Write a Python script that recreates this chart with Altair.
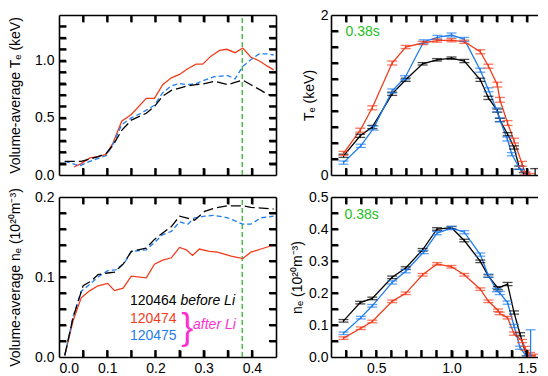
import altair as alt
import pandas as pd

FONT = "Liberation Sans"
RED = "#f23c1c"
BLUE = "#1e7cf0"
BLACK = "#000000"
GREEN_LINE = "#22b022"
GREEN_TXT = "#22c022"
MAGENTA = "#ff30d0"

# ---------------- top-left: volume-average Te vs time ----------------
tl_t_black = [0.012, 0.046, 0.081, 0.098, 0.112, 0.130, 0.150, 0.181, 0.198, 0.215, 0.233,
              0.250, 0.267, 0.284, 0.302, 0.322, 0.350, 0.365, 0.381, 0.398, 0.419, 0.435]
tl_te_black = [0.12, 0.12, 0.16, 0.19, 0.26, 0.39, 0.48, 0.54, 0.60, 0.69, 0.74,
               0.76, 0.78, 0.79, 0.80, 0.82, 0.79, 0.81, 0.83, 0.79, 0.74, 0.70]
tl_t_red = [0.031, 0.046, 0.064, 0.081, 0.098, 0.112, 0.130, 0.150, 0.181, 0.198, 0.215, 0.233,
            0.250, 0.267, 0.284, 0.298, 0.315, 0.333, 0.348, 0.365, 0.381, 0.398, 0.415, 0.433, 0.445]
tl_te_red = [0.07, 0.10, 0.15, 0.16, 0.18, 0.28, 0.47, 0.53, 0.67, 0.67, 0.79, 0.85,
             0.88, 0.93, 0.97, 0.97, 1.04, 1.09, 1.10, 1.07, 1.11, 1.03, 1.00, 0.95, 0.92]
tl_t_blue = [0.012, 0.043, 0.064, 0.098, 0.112, 0.130, 0.150, 0.170, 0.198, 0.215, 0.233, 0.250,
             0.267, 0.284, 0.302, 0.322, 0.350, 0.365, 0.381, 0.398, 0.415, 0.433, 0.445]
tl_te_blue = [0.12, 0.08, 0.12, 0.17, 0.27, 0.44, 0.50, 0.54, 0.61, 0.72, 0.78, 0.80,
              0.79, 0.80, 0.83, 0.86, 0.87, 0.84, 0.95, 1.01, 1.06, 1.06, 1.05]

# ---------------- bottom-left: volume-average ne vs time ----------------
bl_t_black = [0.012, 0.029, 0.050, 0.067, 0.081, 0.101, 0.115, 0.133, 0.150, 0.181, 0.198,
              0.215, 0.233, 0.250, 0.264, 0.281, 0.302, 0.322, 0.350, 0.381, 0.398, 0.445]
bl_ne_black = [0.002, 0.049, 0.089, 0.095, 0.103, 0.105, 0.106, 0.116, 0.132, 0.136, 0.147,
               0.155, 0.163, 0.176, 0.174, 0.171, 0.182, 0.186, 0.189, 0.189, 0.187, 0.185]
bl_t_red = [0.012, 0.029, 0.046, 0.064, 0.081, 0.101, 0.115, 0.133, 0.150, 0.181, 0.198, 0.215,
            0.233, 0.250, 0.264, 0.277, 0.291, 0.312, 0.329, 0.357, 0.381, 0.398, 0.419, 0.445]
bl_ne_red = [0.002, 0.045, 0.074, 0.083, 0.089, 0.092, 0.083, 0.086, 0.101, 0.099, 0.116, 0.121,
             0.124, 0.137, 0.134, 0.127, 0.135, 0.132, 0.131, 0.126, 0.123, 0.131, 0.135, 0.140]
bl_t_blue = [0.012, 0.029, 0.046, 0.064, 0.081, 0.101, 0.118, 0.136, 0.150, 0.181, 0.198, 0.215,
             0.233, 0.250, 0.267, 0.281, 0.302, 0.322, 0.350, 0.381, 0.398, 0.419, 0.445]
bl_ne_blue = [0.002, 0.050, 0.082, 0.091, 0.100, 0.108, 0.109, 0.118, 0.132, 0.134, 0.143, 0.153,
              0.157, 0.169, 0.166, 0.174, 0.176, 0.177, 0.174, 0.166, 0.166, 0.174, 0.176]

# ---------------- top-right: Te profile at 0.38 s ----------------
tr_r_black = [0.283, 0.394, 0.474, 0.606, 0.696, 0.808, 0.904, 1.000, 1.085, 1.191, 1.245,
              1.304, 1.321, 1.372, 1.415, 1.450, 1.480]
tr_te_black = [0.24, 0.49, 0.60, 1.015, 1.19, 1.39, 1.44, 1.46, 1.425, 1.19, 0.964,
               0.805, 0.688, 0.51, 0.344, 0.092, 0.01]
tr_err_black = [0.02, 0.02, 0.02, 0.02, 0.02, 0.015, 0.015, 0.015, 0.02, 0.02, 0.02,
                0.02, 0.02, 0.02, 0.02, 0.02, 0.02]
tr_r_red = [0.283, 0.394, 0.474, 0.606, 0.696, 0.808, 0.904, 1.000, 1.085, 1.191, 1.245,
            1.304, 1.321, 1.372, 1.415, 1.468, 1.489, 1.521]
tr_te_red = [0.27, 0.56, 0.84, 1.40, 1.60, 1.65, 1.68, 1.685, 1.665, 1.54, 1.36,
             1.13, 0.94, 0.65, 0.43, 0.14, 0.02, 0.0]
tr_err_red = [0.025, 0.025, 0.025, 0.025, 0.02, 0.02, 0.02, 0.02, 0.02, 0.025, 0.025,
              0.03, 0.03, 0.03, 0.03, 0.03, 0.02, 0.02]
tr_r_blue = [0.283, 0.398, 0.483, 0.606, 0.691, 0.815, 0.906, 1.000, 1.085, 1.191, 1.245,
             1.300, 1.320, 1.370, 1.400, 1.450, 1.490]
tr_te_blue = [0.155, 0.365, 0.587, 1.05, 1.216, 1.665, 1.72, 1.75, 1.695, 1.31, 1.065,
              0.813, 0.69, 0.45, 0.26, 0.09, 0.017]
tr_err_blue = [0.02, 0.02, 0.025, 0.025, 0.025, 0.025, 0.025, 0.025, 0.025, 0.025, 0.025,
               0.025, 0.025, 0.025, 0.02, 0.02, 0.02]

# ---------------- bottom-right: ne profile at 0.38 s ----------------
br_r_black = [0.283, 0.394, 0.474, 0.606, 0.696, 0.808, 0.904, 1.000, 1.085, 1.191, 1.245,
              1.308, 1.372, 1.415, 1.455, 1.500]
br_ne_black = [0.113, 0.170, 0.183, 0.249, 0.278, 0.335, 0.400, 0.404, 0.364, 0.299, 0.253,
               0.215, 0.228, 0.139, 0.071, 0.000]
br_err_black = [0.004, 0.004, 0.004, 0.004, 0.004, 0.004, 0.004, 0.004, 0.004, 0.004, 0.004,
                0.005, 0.005, 0.005, 0.005, 0.004]
br_r_red = [0.283, 0.398, 0.474, 0.606, 0.696, 0.808, 0.904, 1.000, 1.085, 1.191, 1.245,
            1.308, 1.320, 1.372, 1.415, 1.468, 1.489, 1.521, 1.555]
br_ne_red = [0.059, 0.090, 0.111, 0.174, 0.199, 0.257, 0.291, 0.282, 0.257, 0.212, 0.174,
             0.146, 0.136, 0.123, 0.073, 0.050, 0.027, 0.008, 0.003]
br_err_red = [0.004, 0.004, 0.004, 0.004, 0.004, 0.004, 0.004, 0.004, 0.004, 0.004, 0.004,
              0.004, 0.004, 0.004, 0.005, 0.005, 0.006, 0.006, 0.006]
br_r_blue = [0.283, 0.398, 0.474, 0.606, 0.696, 0.815, 0.904, 1.000, 1.085, 1.191, 1.245,
             1.300, 1.320, 1.372, 1.415, 1.455, 1.500]
br_ne_blue = [0.074, 0.123, 0.160, 0.233, 0.268, 0.328, 0.387, 0.403, 0.390, 0.320, 0.254,
              0.209, 0.200, 0.170, 0.097, 0.029, 0.000]
br_err_blue = [0.004, 0.004, 0.004, 0.005, 0.005, 0.005, 0.005, 0.005, 0.005, 0.005, 0.005,
               0.005, 0.005, 0.005, 0.005, 0.005, 0.004]

# isolated edge channels (drawn as error bars only)
edge_color = [BLACK, BLUE]
edge_r = [1.555, 1.525]
edge_val = [0.035, 0.040]
edge_err = [0.045, 0.045]

# legend / annotation text
legend_shots = ["120464", "120474", "120475"]
legend_colors = [BLACK, RED, BLUE]
time_label = "0.38s"
t_slice = 0.38

# axis label values and tick values
xl_lab = [0.0, 0.1, 0.2, 0.3, 0.4]
xl_ticks = [0.05, 0.1, 0.15, 0.2, 0.25, 0.3, 0.35, 0.4]
xr_lab = [0.5, 1.0, 1.5]
xr_ticks = [0.3, 0.4, 0.5, 0.6, 0.7, 0.8, 0.9, 1.0, 1.1, 1.2, 1.3, 1.4, 1.5]
tl_ylab = [0.0, 0.5, 1.0]
tl_yticks = [0.1, 0.2, 0.3, 0.4, 0.5, 0.6, 0.7, 0.8, 0.9, 1.0, 1.1, 1.2, 1.3]
bl_ylab = [0.0, 0.1, 0.2]
bl_yticks = [0.02, 0.04, 0.06, 0.08, 0.1, 0.12, 0.14, 0.16, 0.18]
tr_ylab = [0, 1, 2]
tr_yticks = [0.2, 0.4, 0.6, 0.8, 1.0, 1.2, 1.4, 1.6, 1.8]
br_ylab = [0.0, 0.1, 0.2, 0.3, 0.4, 0.5]
br_yticks = [0.05, 0.1, 0.15, 0.2, 0.25, 0.3, 0.35, 0.4, 0.45]


def df(x, y, err=None):
    d = pd.DataFrame({"x": x, "y": y})
    if err is not None:
        d["lo"] = [a - b for a, b in zip(y, err)]
        d["hi"] = [a + b for a, b in zip(y, err)]
    return d


TICK = 7   # tick length in pixels
LW = 1.6   # frame line width
TW = 2.0   # tick line width


def axes_layers(xdom, ydom, w, h, xlab, xfmt, showx, xticks, ylab, yfmt, ytitle, yticks,
                right_box, lab_pad, title_pad):
    corners = pd.DataFrame({"x": xdom, "y": ydom})
    base = alt.Chart(corners).mark_point(opacity=0, size=0)
    xs = alt.Scale(domain=xdom, nice=False, zero=False)
    ys = alt.Scale(domain=ydom, nice=False, zero=False)
    l1 = base.encode(
        x=alt.X("x:Q", scale=xs, axis=alt.Axis(orient="bottom", values=xlab, format=xfmt,
                                                labels=showx, ticks=False, domain=True, grid=False,
                                                title=None, labelPadding=4, labelOverlap=False)),
        y=alt.Y("y:Q", scale=ys, axis=alt.Axis(orient="left", values=ylab, format=yfmt,
                                                ticks=False, domain=True, grid=False, title=ytitle,
                                                labelPadding=lab_pad, titlePadding=title_pad,
                                                labelOverlap=False)))
    yax3 = (alt.Axis(orient="left", offset=-w, labels=False, ticks=False,
                     domain=True, grid=False, title=None) if right_box else None)
    l3 = base.encode(
        x=alt.X("x:Q", scale=xs, axis=alt.Axis(orient="bottom", offset=-h, labels=False,
                                                ticks=False, domain=True, grid=False, title=None)),
        y=alt.Y("y:Q", scale=ys, axis=yax3))
    # outward-pointing tick axes shifted inward by one tick length -> inward ticks
    tick_kw = dict(labels=False, ticks=True, tickSize=TICK, tickWidth=TW, tickColor="#000000",
                   domain=False, grid=False, title=None, offset=-TICK)
    l4 = base.encode(
        x=alt.X("x:Q", scale=xs, axis=alt.Axis(orient="bottom", values=xticks, **tick_kw)),
        y=alt.Y("y:Q", scale=ys, axis=alt.Axis(orient="left", values=yticks, **tick_kw)))
    yax5 = alt.Axis(orient="right", values=yticks, **tick_kw) if right_box else None
    l5 = base.encode(
        x=alt.X("x:Q", scale=xs, axis=alt.Axis(orient="top", values=xticks, **tick_kw)),
        y=alt.Y("y:Q", scale=ys, axis=yax5))
    return [l1, l3, l4, l5], xs, ys


def tick_layers(xdom, ydom, w, h, xticks, yticks, right_box, xs, ys):
    # inward tick marks drawn as short rules in data coordinates
    dy_len = TICK / h * (ydom[1] - ydom[0])
    dx_len = TICK / w * (xdom[1] - xdom[0])
    vert = pd.DataFrame({
        "x": list(xticks) + list(xticks),
        "lo": [ydom[0]] * len(xticks) + [ydom[1] - dy_len] * len(xticks),
        "hi": [ydom[0] + dy_len] * len(xticks) + [ydom[1]] * len(xticks),
    })
    yv = list(yticks) + (list(yticks) if right_box else [])
    horiz = pd.DataFrame({
        "y": yv,
        "lo": [xdom[0]] * len(yticks) + ([xdom[1] - dx_len] * len(yticks) if right_box else []),
        "hi": [xdom[0] + dx_len] * len(yticks) + ([xdom[1]] * len(yticks) if right_box else []),
    })
    t1 = alt.Chart(vert).mark_rule(color="#000000", strokeWidth=TW).encode(
        x=alt.X("x:Q", scale=xs, axis=None), y=alt.Y("lo:Q", scale=ys, axis=None), y2="hi:Q")
    t2 = alt.Chart(horiz).mark_rule(color="#000000", strokeWidth=TW).encode(
        y=alt.Y("y:Q", scale=ys, axis=None), x=alt.X("lo:Q", scale=xs, axis=None), x2="hi:Q")
    return [t1, t2]


def line(d, xs, ys, color, dash=None, width=1.3):
    kw = dict(color=color, strokeWidth=width, clip=True)
    if dash:
        kw["strokeDash"] = dash
    return alt.Chart(d).mark_line(**kw).encode(
        x=alt.X("x:Q", scale=xs, axis=None), y=alt.Y("y:Q", scale=ys, axis=None))


def errbars(d, xs, ys, color):
    r = alt.Chart(d).mark_rule(color=color, strokeWidth=1.2, clip=True).encode(
        x=alt.X("x:Q", scale=xs, axis=None), y=alt.Y("lo:Q", scale=ys, axis=None), y2="hi:Q")
    t1 = alt.Chart(d).mark_tick(color=color, orient="horizontal", size=10, thickness=1.3,
                                clip=True).encode(
        x=alt.X("x:Q", scale=xs, axis=None), y=alt.Y("lo:Q", scale=ys, axis=None))
    t2 = alt.Chart(d).mark_tick(color=color, orient="horizontal", size=10, thickness=1.3,
                                clip=True).encode(
        x=alt.X("x:Q", scale=xs, axis=None), y=alt.Y("hi:Q", scale=ys, axis=None))
    return [r, t1, t2]


def text(x, y, s, color, xs, ys, size=14, style="normal", align="left"):
    d = pd.DataFrame({"x": [x], "y": [y], "s": [s]})
    return alt.Chart(d).mark_text(align=align, baseline="middle", font=FONT, fontSize=size,
                                  fontStyle=style, color=color).encode(
        x=alt.X("x:Q", scale=xs, axis=None), y=alt.Y("y:Q", scale=ys, axis=None), text="s:N")


def vline(x, xs, ys, ydom):
    d = pd.DataFrame({"x": [x], "y": [ydom[0]], "y2": [ydom[1]]})
    return alt.Chart(d).mark_rule(color=GREEN_LINE, strokeWidth=1.2, strokeDash=[5, 3]).encode(
        x=alt.X("x:Q", scale=xs, axis=None), y=alt.Y("y:Q", scale=ys, axis=None), y2="y2:Q")


WL, WR, H = 217, 207, 160
XL = [0.0, 0.45]
XR = [0.2, 1.574]

# ---- top-left panel
YTL = [0.0, 1.4]
ax, xs, ys = axes_layers(XL, YTL, WL, H, xl_lab, ".1f", False, xl_ticks, tl_ylab, ".1f",
                         "Volume-average Tₑ (keV)", tl_yticks, True, 5, 12)
tl = alt.layer(
    *ax,
    vline(t_slice, xs, ys, YTL),
    line(df(tl_t_red, tl_te_red), xs, ys, RED),
    line(df(tl_t_blue, tl_te_blue), xs, ys, BLUE, [5, 3]),
    line(df(tl_t_black, tl_te_black), xs, ys, BLACK, [10, 4]),
    *tick_layers(XL, YTL, WL, H, xl_ticks, tl_yticks, True, xs, ys),
).resolve_axis(x="independent", y="independent").properties(width=WL, height=H)

# ---- bottom-left panel
YBL = [0.0, 0.2]
ax, xs, ys = axes_layers(XL, YBL, WL, H, xl_lab, ".1f", True, xl_ticks, bl_ylab, ".1f",
                         "Volume-average nₑ (10²⁰m⁻³)", bl_yticks, True, 5, 12)
bl = alt.layer(
    *ax,
    vline(t_slice, xs, ys, YBL),
    line(df(bl_t_red, bl_ne_red), xs, ys, RED),
    line(df(bl_t_blue, bl_ne_blue), xs, ys, BLUE, [5, 3]),
    line(df(bl_t_black, bl_ne_black), xs, ys, BLACK, [10, 4]),
    text(0.147, 0.0695, legend_shots[0], legend_colors[0], xs, ys),
    text(0.252, 0.0695, "before Li", BLACK, xs, ys, style="italic"),
    text(0.147, 0.0475, legend_shots[1], legend_colors[1], xs, ys),
    text(0.147, 0.0265, legend_shots[2], legend_colors[2], xs, ys),
    text(0.266, 0.036, "}", MAGENTA, xs, ys, size=36, align="center"),
    text(0.278, 0.040, "after Li", MAGENTA, xs, ys, style="italic"),
    *tick_layers(XL, YBL, WL, H, xl_ticks, bl_yticks, True, xs, ys),
).resolve_axis(x="independent", y="independent").properties(width=WL, height=H)

# ---- top-right panel
YTR = [0.0, 2.0]
ax, xs, ys = axes_layers(XR, YTR, WR, H, xr_lab, ".1f", False, xr_ticks, tr_ylab, "d",
                         "Tₑ (keV)", tr_yticks, False, 3, 4)
e_te = df([edge_r[0]], [edge_val[0]], [edge_err[0]])
tr = alt.layer(
    *ax,
    line(df(tr_r_black, tr_te_black), xs, ys, BLACK),
    line(df(tr_r_blue, tr_te_blue), xs, ys, BLUE),
    line(df(tr_r_red, tr_te_red), xs, ys, RED),
    *errbars(df(tr_r_black, tr_te_black, tr_err_black), xs, ys, BLACK),
    *errbars(df(tr_r_blue, tr_te_blue, tr_err_blue), xs, ys, BLUE),
    *errbars(df(tr_r_red, tr_te_red, tr_err_red), xs, ys, RED),
    *errbars(e_te, xs, ys, edge_color[0]),
    text(0.296, 1.79, time_label, GREEN_TXT, xs, ys),
    *tick_layers(XR, YTR, WR, H, xr_ticks, tr_yticks, False, xs, ys),
).resolve_axis(x="independent", y="independent").properties(width=WR, height=H)

# ---- bottom-right panel
YBR = [0.0, 0.5]
ax, xs, ys = axes_layers(XR, YBR, WR, H, xr_lab, ".1f", True, xr_ticks, br_ylab, ".1f",
                         "nₑ (10²⁰m⁻³)", br_yticks, False, 3, 4)
e_ne = df([edge_r[1]], [edge_val[1]], [edge_err[1]])
br = alt.layer(
    *ax,
    line(df(br_r_black, br_ne_black), xs, ys, BLACK),
    line(df(br_r_blue, br_ne_blue), xs, ys, BLUE),
    line(df(br_r_red, br_ne_red), xs, ys, RED),
    *errbars(df(br_r_black, br_ne_black, br_err_black), xs, ys, BLACK),
    *errbars(df(br_r_blue, br_ne_blue, br_err_blue), xs, ys, BLUE),
    *errbars(df(br_r_red, br_ne_red, br_err_red), xs, ys, RED),
    *errbars(e_ne, xs, ys, edge_color[1]),
    text(0.29, 0.444, time_label, GREEN_TXT, xs, ys),
    *tick_layers(XR, YBR, WR, H, xr_ticks, br_yticks, False, xs, ys),
).resolve_axis(x="independent", y="independent").properties(width=WR, height=H)

chart = alt.concat(
    tl, tr, bl, br, columns=2, spacing={"row": 22, "column": 55}, bounds="flush",
    padding={"left": 0, "top": 0, "right": 0, "bottom": 0},
).configure_view(stroke=None).configure_axis(
    labelFont=FONT, labelFontSize=14, labelColor="black",
    titleFont=FONT, titleFontSize=14, titleFontWeight="normal", titleColor="black",
    domainColor="#000000", tickColor="#000000", domainWidth=LW, tickWidth=LW,
)

chart.save("out.html", embed_options={"renderer": "svg", "actions": False})
